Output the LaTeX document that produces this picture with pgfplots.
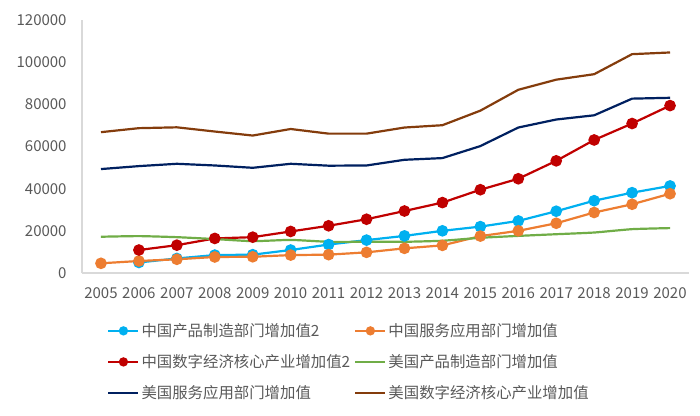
\documentclass[border=0pt]{standalone}
\usepackage{pgfplots}
\pgfplotsset{compat=1.18}
\usepackage{fontspec}
\setmainfont{Noto Sans CJK SC}
\definecolor{cCyan}{HTML}{00B0F0}
\definecolor{cOrange}{HTML}{ED7D31}
\definecolor{cRed}{HTML}{C00000}
\definecolor{cGreen}{HTML}{70AD47}
\definecolor{cNavy}{HTML}{002060}
\definecolor{cBrown}{HTML}{843C0C}
\definecolor{tickgray}{HTML}{595959}
\definecolor{axgray}{HTML}{D9D9D9}

\begin{document}
\begin{tikzpicture}
\useasboundingbox (-82pt,-142pt) rectangle (618pt,273pt);
\begin{axis}[
    scale only axis,
    width=607pt,
    height=253pt,
    xmin=2004.5, xmax=2020.5,
    ymin=0, ymax=120000,
    xtick={2005,...,2020},
    ytick={0,20000,...,120000},
    xticklabel style={/pgf/number format/1000 sep={}, yshift=-10pt},
    yticklabel style={/pgf/number format/1000 sep={}, /pgf/number format/fixed, xshift=-11pt},
    scaled y ticks=false,
    /pgf/number format/assume math mode=true,
    tick label style={font=\fontsize{15}{18}\selectfont, text=tickgray},
    major tick length=0pt,
    axis lines=left,
    axis line style={-, draw=axgray, line width=1.3pt},
    line width=2.2pt,
    every axis plot/.append style={line width=2.2pt},
    legend columns=2,
    legend cell align=left,
    legend style={
        at={(axis description cs:0.035,-0.16)}, anchor=north west, yshift=-5pt,
        draw=none, fill=none,
        font=\fontsize{15.4}{18}\selectfont, text=tickgray,
        row sep=12.5pt,
        /tikz/every even column/.append style={column sep=2pt},
    },
    legend image code/.code={
        \draw[mark repeat=2,mark phase=2,#1,mark size=3.5pt] plot coordinates {(0pt,0pt)(15pt,0pt)(30pt,0pt)};
    },
]
\addplot[color=cCyan, mark=*, mark size=4.7pt] coordinates {
    (2006,5000) (2007,6900) (2008,8500) (2009,8700) (2010,10900) (2011,13500)
    (2012,15600) (2013,17600) (2014,20000) (2015,22000) (2016,24700) (2017,29300)
    (2018,34300) (2019,38100) (2020,41300)
};
\addplot[color=cOrange, mark=*, mark size=4.7pt] coordinates {
    (2005,4600) (2006,5700) (2007,6500) (2008,7600) (2009,7700) (2010,8500)
    (2011,8700) (2012,9800) (2013,11700) (2014,13100) (2015,17500) (2016,20000)
    (2017,23600) (2018,28700) (2019,32600) (2020,37600)
};
\addplot[color=cRed, mark=*, mark size=4.7pt] coordinates {
    (2006,10900) (2007,13200) (2008,16400) (2009,17000) (2010,19700) (2011,22400)
    (2012,25500) (2013,29400) (2014,33400) (2015,39500) (2016,44700) (2017,53200)
    (2018,63100) (2019,70900) (2020,79400)
};
\addplot[color=cGreen, smooth, tension=0.3] coordinates {
    (2005,17200) (2006,17500) (2007,17000) (2008,16100) (2009,15100) (2010,15700)
    (2011,14800) (2012,14800) (2013,14800) (2014,15300) (2015,16700) (2016,17600)
    (2017,18400) (2018,19200) (2019,20800) (2020,21300)
};
\addplot[color=cNavy] coordinates {
    (2005,49300) (2006,50700) (2007,51800) (2008,51000) (2009,49900) (2010,51800)
    (2011,50900) (2012,51000) (2013,53700) (2014,54500) (2015,60200) (2016,69000)
    (2017,72800) (2018,74800) (2019,82700) (2020,83100)
};
\addplot[color=cBrown] coordinates {
    (2005,66800) (2006,68700) (2007,69100) (2008,67100) (2009,65200) (2010,68300)
    (2011,66100) (2012,66100) (2013,69000) (2014,70100) (2015,77000) (2016,86900)
    (2017,91700) (2018,94300) (2019,103800) (2020,104600)
};
\legend{中国产品制造部门增加值2, 中国服务应用部门增加值, 中国数字经济核心产业增加值2, 美国产品制造部门增加值, 美国服务应用部门增加值, 美国数字经济核心产业增加值}
\end{axis}
\end{tikzpicture}
\end{document}
